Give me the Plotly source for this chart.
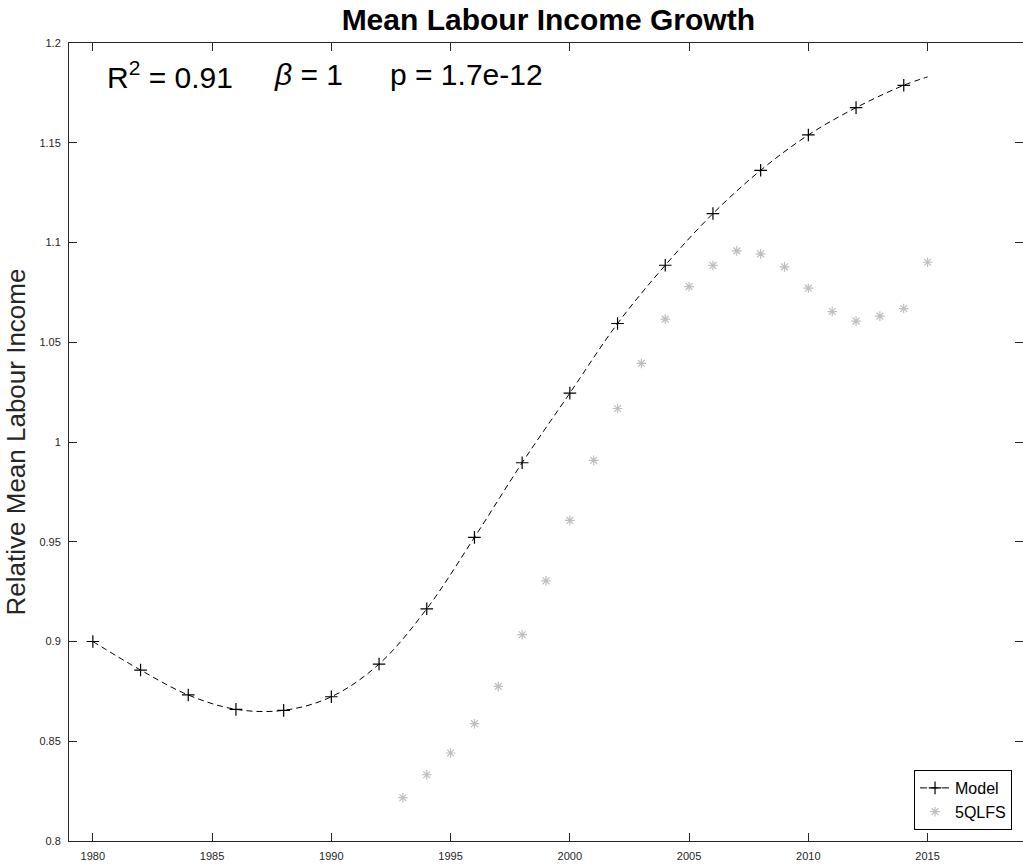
import plotly.graph_objects as go

# Model: fitted relative mean labour income (markers every second year, curve to 2015)
model_years = [1980, 1982, 1984, 1986, 1988, 1990, 1992, 1994, 1996, 1998,
               2000, 2002, 2004, 2006, 2008, 2010, 2012, 2014, 2015]
model_values = [0.9000, 0.8857, 0.8732, 0.8660, 0.8655, 0.8723, 0.8887, 0.9164,
                0.9522, 0.9896, 1.0245, 1.0594, 1.0886, 1.1145, 1.1362, 1.1539,
                1.1676, 1.1788, 1.1830]
marker_years = model_years[:-1]
marker_values = model_values[:-1]

# 5QLFS survey observations
qlfs_years = list(range(1993, 2016))
qlfs_values = [0.8217, 0.8332, 0.8441, 0.8588, 0.8775, 0.9034, 0.9304, 0.9607,
               0.9908, 1.0168, 1.0394, 1.0616, 1.0779, 1.0885, 1.0958, 1.0943,
               1.0878, 1.0771, 1.0654, 1.0606, 1.0631, 1.0669, 1.0901]

x_ticks = [1980, 1985, 1990, 1995, 2000, 2005, 2010, 2015]
y_ticks = [0.8, 0.85, 0.9, 0.95, 1.0, 1.05, 1.1, 1.15, 1.2]
y_tick_text = ["0.8", "0.85", "0.9", "0.95", "1", "1.05", "1.1", "1.15", "1.2"]

axis_color = "#262626"
font_family = "Liberation Sans, Arial, sans-serif"
model_line = dict(color="black", width=1, dash="6px,4px")
model_marker = dict(symbol="cross-thin-open", size=9, color="black",
                    line=dict(color="black", width=1.2))
qlfs_marker = dict(symbol="asterisk-open", size=8, color="#bfbfbf",
                   line=dict(color="#bfbfbf", width=1.2))

fig = go.Figure()

# smooth model curve
fig.add_trace(go.Scatter(
    x=model_years, y=model_values, mode="lines", showlegend=False,
    line=dict(**model_line, shape="spline", smoothing=1.0), hoverinfo="skip",
))
# model markers every second year
fig.add_trace(go.Scatter(
    x=marker_years, y=marker_values, mode="markers", showlegend=False,
    marker=model_marker, name="Model",
))
# legend entry for the model
fig.add_trace(go.Scatter(
    x=[None], y=[None], mode="lines+markers", name="Model",
    line=dict(color="black", width=1, dash="7px,4px"), marker=model_marker,
))

fig.add_trace(go.Scatter(
    x=qlfs_years, y=qlfs_values, name="5QLFS", mode="markers",
    marker=qlfs_marker,
))

fig.update_layout(
    width=1023, height=867,
    margin=dict(l=69, r=0, t=43, b=26),
    paper_bgcolor="white", plot_bgcolor="white",
    font=dict(family=font_family, color=axis_color),
    title=dict(text="<b>Mean Labour Income Growth</b>", x=0.536, xanchor="center",
               xref="container", y=0.977, yanchor="middle", yref="container",
               font=dict(size=30, color="black", family=font_family)),
    showlegend=True,
    legend=dict(x=0.9885, y=0.0138, xanchor="right", yanchor="bottom",
                bgcolor="white", bordercolor="black", borderwidth=1,
                font=dict(size=16, color="black", family=font_family),
                tracegroupgap=0, itemwidth=30),
)

fig.update_xaxes(
    range=[1979, 2019], tickvals=x_ticks,
    ticks="inside", ticklen=8, tickcolor=axis_color, tickwidth=1,
    showline=True, linecolor=axis_color, linewidth=1, mirror="ticks",
    showgrid=False, zeroline=False, automargin=False,
    tickfont=dict(size=11, color=axis_color), ticklabelstandoff=5,
)
fig.update_yaxes(
    range=[0.8, 1.2], tickvals=y_ticks, ticktext=y_tick_text,
    ticks="inside", ticklen=8, tickcolor=axis_color, tickwidth=1,
    showline=True, linecolor=axis_color, linewidth=1, mirror="ticks",
    showgrid=False, zeroline=False, automargin=False,
    tickfont=dict(size=11, color=axis_color), ticklabelstandoff=5,
    title=dict(text="Relative Mean Labour Income", standoff=6,
               font=dict(size=26, color=axis_color)),
)

# fit statistics across the top of the plot
stats = ["R<sup>2</sup> = 0.91", "<i>β</i> = 1", "p = 1.7e-12"]
stats_x = [0.0377, 0.2128, 0.3344]
for txt, xp in zip(stats, stats_x):
    fig.add_annotation(
        xref="paper", yref="paper", x=xp, y=0.96, xanchor="left", yanchor="middle",
        showarrow=False, text=txt,
        font=dict(size=30, color="black", family=font_family),
    )

fig.write_html("out.html")
